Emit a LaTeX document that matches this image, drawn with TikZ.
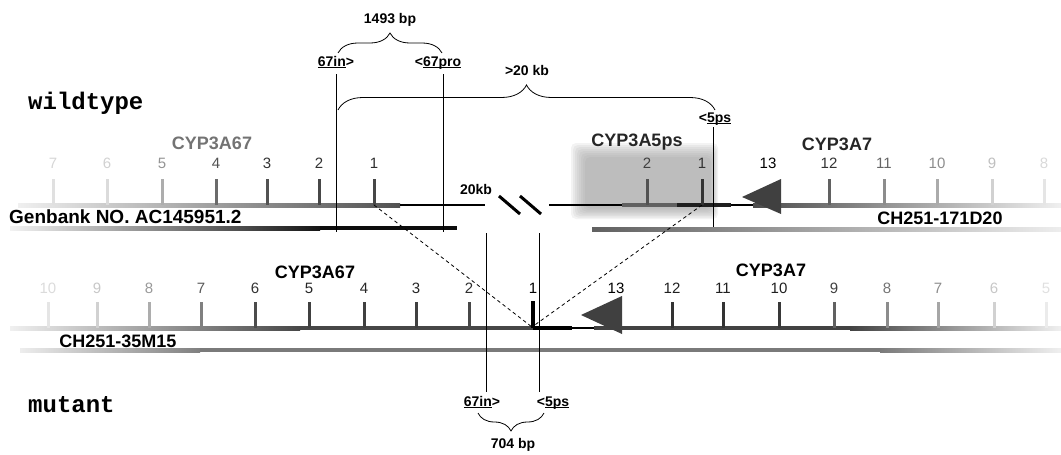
\documentclass[tikz,border=0pt]{standalone}
\usepackage{fontspec}
\setmainfont{Liberation Sans}
\setmonofont{Liberation Mono}
\usetikzlibrary{decorations.pathreplacing}
\newcommand\ulx[1]{\underline{\smash{#1}}}
\begin{document}
\begin{tikzpicture}[x=1pt,y=-1pt,
  lbl/.style={font=\fontsize{18}{20}\selectfont\bfseries, inner sep=0pt},
  num/.style={font=\fontsize{15}{17}\selectfont, inner sep=0pt},
  sml/.style={font=\fontsize{14}{16}\selectfont\bfseries, inner sep=0pt},
  mono/.style={font=\fontsize{24}{26}\selectfont\ttfamily\bfseries, inner sep=0pt, anchor=west},
  vline/.style={line width=0.8pt},
  exontick/.style={line width=3pt},
  thinline/.style={line width=1.3pt},
  brc/.style={decorate, decoration={brace, amplitude=#1}, line width=0.8pt},
  slash/.style={line width=3pt},
  dsh/.style={dashed, dash pattern=on 3.5pt off 3pt, line width=0.8pt}]
\useasboundingbox (0,0) rectangle (1061,455);

% ---------- shaded box behind CYP3A5ps ----------
\foreach \i in {0,...,7}
  \fill[black!40, opacity=0.12, rounded corners=5pt] (571+2*\i,143+2*\i) rectangle (718-1*\i,219-1.5*\i);

% ---------- wildtype row: gene lines and bars ----------
\shade[left color=black!6, right color=black!68] (18,203) rectangle (400,207);
\draw[thinline] (400,205) coordinate (tl0) -- (485,205) coordinate (tl1);
\draw[thinline] (549,205) coordinate (tr0) -- (622,205) coordinate (tr1);
\fill[black!62] (622,203) rectangle (677,207);
\fill[black!88] (677,203) rectangle (731,207);
\draw[thinline] (731,205) coordinate (tr2) -- (753,205) coordinate (tr3);
\shade[left color=black!70, right color=black!6] (753,203) rectangle (1061,207);

\shade[left color=black!5, right color=black!92] (10,226) rectangle (320,230);
\fill[black!95] (320,226) rectangle (457,230);
\shade[left color=black!62, right color=black!7] (592,227) rectangle (1061,231);

% 20kb break
\node[sml] (kb) at (476,189) {20kb};
\draw[slash] (499,196) coordinate (s1a) -- (520,214) coordinate (s1b);
\draw[slash] (520,196) coordinate (s2a) -- (541,214) coordinate (s2b);

% exons, wildtype left
\foreach \x/\n/\tc/\lc in {53/7/12/16, 107/6/14/18, 162/5/32/42, 216/4/58/68, 267/3/68/80, 319/2/72/80, 374/1/72/82}{
  \draw[exontick, black!\tc] (\x,179) -- (\x,205);
  \node[num, text=black!\lc] (wl\n) at (\x,163) {\n};
}
% exons, wildtype right
\foreach \x/\n/\tc/\lc in {647/2/68/75, 702/1/80/80, 829/12/62/80, 884/11/45/60, 937/10/33/45, 992/9/18/25, 1044/8/10/15}{
  \draw[exontick, black!\tc] (\x,179) -- (\x,205);
  \node[num, text=black!\lc] (wr\n) at (\x,163) {\n};
}
\node[num] (wr13) at (768,163) {13};
\fill[black!75] (742,197) coordinate (ta1) -- (781,179) -- (781,214) -- cycle;

% gene labels, wildtype
\node[lbl, text=black!55] (g67w) at (212,143) {CYP3A67};
\node[lbl, text=black!85] (g5ps) at (637,142) {CYP3A5ps};
\node[lbl, text=black!85] (g7w) at (837,144) {CYP3A7};
\node[lbl, anchor=west, font=\fontsize{19}{21}\selectfont\bfseries] (genb) at (9,217) {Genbank NO. AC145951.2};
\node[lbl] (ch1) at (940,218) {CH251-171D20};

% primers and braces, top
\node[sml] (bp1493) at (390,20) {1493 bp};
\node[sml] (p67in) at (336,63) {\ulx{67in}>};
\node[sml] (p67pro) at (438,63) {<\ulx{67pro}};
\node[sml] (kb20) at (527,70) {>20 kb};
\node[sml] (p5ps) at (715,119) {<\ulx{5ps}};
\draw[brc=20] (338,53) coordinate (b1a) -- (442,53) coordinate (b1b);
\draw[brc=25] (338,110) coordinate (b2a) -- (715,110) coordinate (b2b);
\coordinate (v1t) at (336,74); \coordinate (v1b) at (336,232);
\coordinate (v2t) at (443,74); \coordinate (v2b) at (443,232);
\coordinate (v3t) at (713,127); \coordinate (v3b) at (713,227);
\draw[vline] (v1t) -- (v1b);
\draw[vline] (v2t) -- (v2b);
\draw[vline] (v3t) -- (v3b);

% ---------- mutant row ----------
\shade[left color=black!6, right color=black!72] (10,326) rectangle (300,330);
\fill[black!72] (300,326) rectangle (533,330);
\fill[black] (533,326) rectangle (572,330);
\draw[thinline] (572,328) coordinate (m0) -- (594,328) coordinate (m1);
\fill[black!74] (594,326) rectangle (850,330);
\shade[left color=black!74, right color=black!6] (850,326) rectangle (1061,330);

\shade[left color=black!7, right color=black!50] (20,348) rectangle (200,352);
\fill[black!52] (200,348) rectangle (880,352);
\shade[left color=black!52, right color=black!6] (880,348) rectangle (1061,352);

\foreach \x/\n/\tc/\lc in {48/10/10/14, 97/9/18/22, 149/8/32/40, 201/7/50/65, 255/6/70/80, 309/5/75/85, 364/4/75/85, 416/3/75/85, 469/2/72/82}{
  \draw[exontick, black!\tc] (\x,302) -- (\x,328);
  \node[num, text=black!\lc] (ml\n) at (\x,288) {\n};
}
\draw[line width=4pt, black] (533,301) -- (533,328);
\node[num] (ml1) at (533,288) {1};
\foreach \x/\n/\tc/\lc in {672/12/80/88, 723/11/80/88, 779/10/78/88, 834/9/62/75, 887/8/45/55, 938/7/35/45, 994/6/18/22, 1046/5/8/12}{
  \draw[exontick, black!\tc] (\x,302) -- (\x,328);
  \node[num, text=black!\lc] (mr\n) at (\x,288) {\n};
}
\node[num] (mr13) at (616,288) {13};
\fill[black!75] (581,315) coordinate (tb1) -- (622,296) -- (622,334) -- cycle;

\node[lbl] (g67m) at (315,272) {CYP3A67};
\node[lbl] (g7m) at (771,270) {CYP3A7};
\node[lbl] (ch2) at (118,341) {CH251-35M15};

% dashed connectors
\coordinate (e1w) at (374,205);
\coordinate (e1p) at (702,205);
\coordinate (e1m) at (532,327);
\draw[dsh] (e1w) -- (e1m);
\draw[dsh] (e1p) -- (e1m);

% primers bottom
\coordinate (v4t) at (486,233); \coordinate (v4b) at (486,392);
\coordinate (v5t) at (539,233); \coordinate (v5b) at (539,392);
\draw[vline] (v4t) -- (v4b);
\draw[vline] (v5t) -- (v5b);
\node[sml] (q67in) at (482,403) {\ulx{67in}>};
\node[sml] (q5ps) at (553,403) {<\ulx{5ps}};
\draw[brc=18] (544,413) coordinate (b3a) -- (478,413) coordinate (b3b);
\node[sml] (bp704) at (513,445) {704 bp};

% row labels
\node[mono] (wt) at (28,103) {wildtype};
\node[mono] (mt) at (28,405) {mutant};
\end{tikzpicture}
\end{document}
